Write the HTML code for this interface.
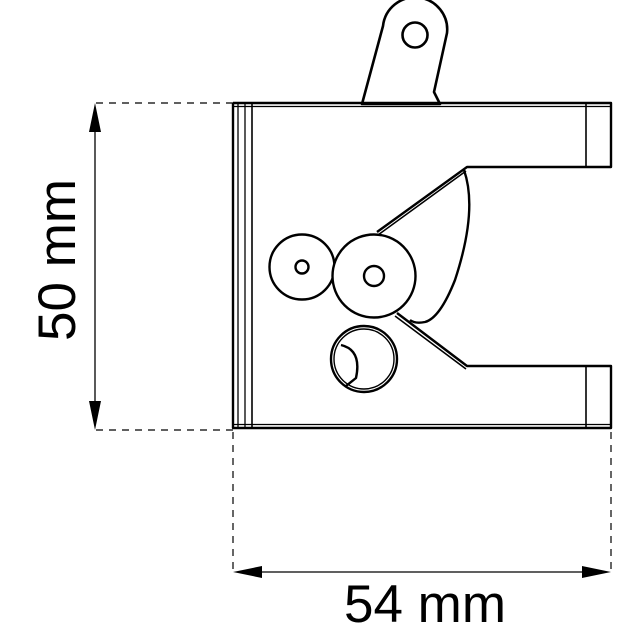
<!DOCTYPE html>
<html><head><style>html,body{margin:0;padding:0;background:#fff}svg{display:block}</style></head>
<body>
<svg width="640" height="640" viewBox="0 0 640 640" xmlns="http://www.w3.org/2000/svg">
<g fill="none" stroke="#000" stroke-width="1.2" stroke-dasharray="7,6">
<line x1="96" y1="103" x2="233" y2="103"/>
<line x1="96" y1="430" x2="233" y2="430"/>
<line x1="233" y1="432" x2="233" y2="574"/>
<line x1="611" y1="432" x2="611" y2="574"/>
</g>
<g stroke="#000" stroke-width="1.3">
<line x1="95" y1="120" x2="95" y2="413"/>
<line x1="250" y1="572" x2="594" y2="572"/>
</g>
<g fill="#000">
<polygon points="95,103 89,132 101,132"/>
<polygon points="95,430 89,401 101,401"/>
<polygon points="233,572 262,566 262,578"/>
<polygon points="611,572 582,566 582,578"/>
</g>
<text x="0" y="0" transform="translate(75,260) rotate(-90)" font-family="Liberation Sans, sans-serif" font-size="53" text-anchor="middle">50 mm</text>
<text x="425" y="622" font-family="Liberation Sans, sans-serif" font-size="53" text-anchor="middle">54 mm</text>
<g fill="#fff" stroke="#000" stroke-width="2.6" stroke-linejoin="round">
<path d="M362,104 L383,26 A31,31 0 0 1 447,33 L434,92 L440,104 Z"/>
<circle cx="415" cy="35" r="12.5"/>
</g>
<g fill="none" stroke="#000" stroke-width="2.4" stroke-linejoin="round">
<path d="M233,103 H611 V167 H467 L377,232"/>
<path d="M397,313 L467,366 H611 V428 H233 V103"/>
<line x1="233" y1="106.5" x2="611" y2="106.5" stroke-width="1.2"/>
<line x1="233" y1="424.5" x2="611" y2="424.5" stroke-width="1.2"/>
<line x1="238" y1="103" x2="238" y2="428" stroke-width="1.3"/>
<line x1="245" y1="103" x2="245" y2="428" stroke-width="1.3"/>
<line x1="252" y1="103" x2="252" y2="428" stroke-width="1.6"/>
<line x1="586" y1="103" x2="586" y2="167" stroke-width="1.6"/>
<line x1="586" y1="366" x2="586" y2="428" stroke-width="1.6"/>
<line x1="466" y1="171" x2="378" y2="235" stroke-width="1.6"/>
<line x1="395" y1="316" x2="466" y2="369" stroke-width="1.6"/>
<path d="M464,170 Q478,210 455,280 Q440,318 425,322 Q415,324 410,320"/>
<circle cx="302" cy="267" r="32.5" fill="#fff"/>
<circle cx="302" cy="267" r="6.5"/>
<circle cx="374" cy="276" r="41.5" fill="#fff"/>
<circle cx="374" cy="276" r="10"/>
<circle cx="364" cy="359" r="33"/>
<circle cx="364" cy="359" r="30" stroke-width="1.4"/>
<path d="M341,345 Q362,350 356,378 L346,386"/>
</g>
</svg>
</body></html>
